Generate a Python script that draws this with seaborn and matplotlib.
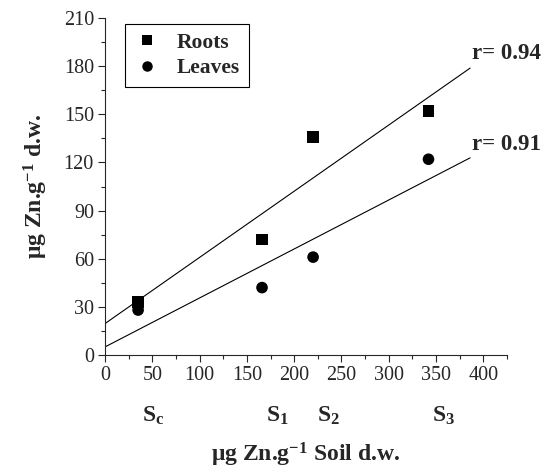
import numpy as np
import pandas as pd
import matplotlib
matplotlib.use("Agg")
import matplotlib.pyplot as plt
import matplotlib.transforms as mtransforms
from matplotlib.ticker import MultipleLocator
import seaborn as sns

soil_zn = [35, 166, 220, 342]
roots = [33, 72, 136, 152]
leaves = [28, 42, 61, 122]
soil_labels = ["S$_\\mathregular{c}$", "S$_\\mathregular{1}$", "S$_\\mathregular{2}$", "S$_\\mathregular{3}$"]
r_labels = ["r= 0.94", "r= 0.91"]

sns.set_style("ticks")
plt.rcParams['font.family'] = ['Liberation Serif', 'DejaVu Serif']
plt.rcParams['mathtext.fontset'] = 'custom'
plt.rcParams['mathtext.rm'] = 'Liberation Serif:bold'
plt.rcParams['mathtext.it'] = 'Liberation Serif:bold'
plt.rcParams['mathtext.bf'] = 'Liberation Serif:bold'

df = pd.DataFrame({
    "soil": soil_zn * 2,
    "zn": roots + leaves,
    "Tissue": ["Roots"] * 4 + ["Leaves"] * 4,
})

fig = plt.figure(figsize=(5.45, 4.69), dpi=100)
ax = fig.add_axes([105/545, 1-355/469, 402/545, 337/469])

# regression lines extending from 0 to ~386
ax.set_xlim(0, 386)
for vals in (roots, leaves):
    sns.regplot(x=soil_zn, y=vals, ax=ax, scatter=False, ci=None, truncate=False,
                line_kws=dict(color='black', lw=0.8))

sns.scatterplot(data=df, x="soil", y="zn", style="Tissue", markers={"Roots": "s", "Leaves": "o"},
                hue="Tissue", palette={"Roots": "black", "Leaves": "black"},
                s=70, edgecolor='black', linewidth=0, ax=ax, zorder=3, legend=True)

ax.set_xlim(0, 425)
ax.set_ylim(0, 210)
ax.xaxis.set_major_locator(MultipleLocator(50))
ax.xaxis.set_minor_locator(MultipleLocator(25))
ax.yaxis.set_major_locator(MultipleLocator(30))
ax.yaxis.set_minor_locator(MultipleLocator(15))
ax.tick_params(which='major', length=5, width=0.8, labelsize=14.5, direction='out', pad=3)
ax.tick_params(which='minor', length=3, width=0.8, direction='out')
for s in ['left', 'bottom']:
    ax.spines[s].set_linewidth(0.8)
sns.despine(ax=ax)

ax.set_xlabel("μg Zn.g$^{-1}$ Soil d.w.", fontsize=17, fontweight='bold', labelpad=40)
ax.set_ylabel("μg Zn.g$^{-1}$ d.w.", fontsize=17, fontweight='bold', labelpad=10)

trans = mtransforms.blended_transform_factory(ax.transData, ax.transAxes)
for xv, lab in zip(soil_zn, soil_labels):
    ax.text(xv + 4, -0.18, lab, transform=trans, ha='left', va='center',
            fontsize=17, fontweight='bold')

ax.text(388, 188, r_labels[0], fontsize=16.5, fontweight='bold', ha='left', va='center')
ax.text(388, 131, r_labels[1], fontsize=16.5, fontweight='bold', ha='left', va='center')

handles, labels = ax.get_legend_handles_labels()
leg = ax.legend(handles, labels, loc='upper left', bbox_to_anchor=(0.05, 0.982),
                borderaxespad=0,
                frameon=True, fancybox=False, edgecolor='black', framealpha=1,
                prop={'family': 'Liberation Serif', 'weight': 'bold', 'size': 15.5},
                handletextpad=0.8, borderpad=0.4, labelspacing=0.25, markerscale=0.9,
                handlelength=1.2)
leg.get_frame().set_linewidth(0.8)

fig.savefig("out.png", dpi=100)
